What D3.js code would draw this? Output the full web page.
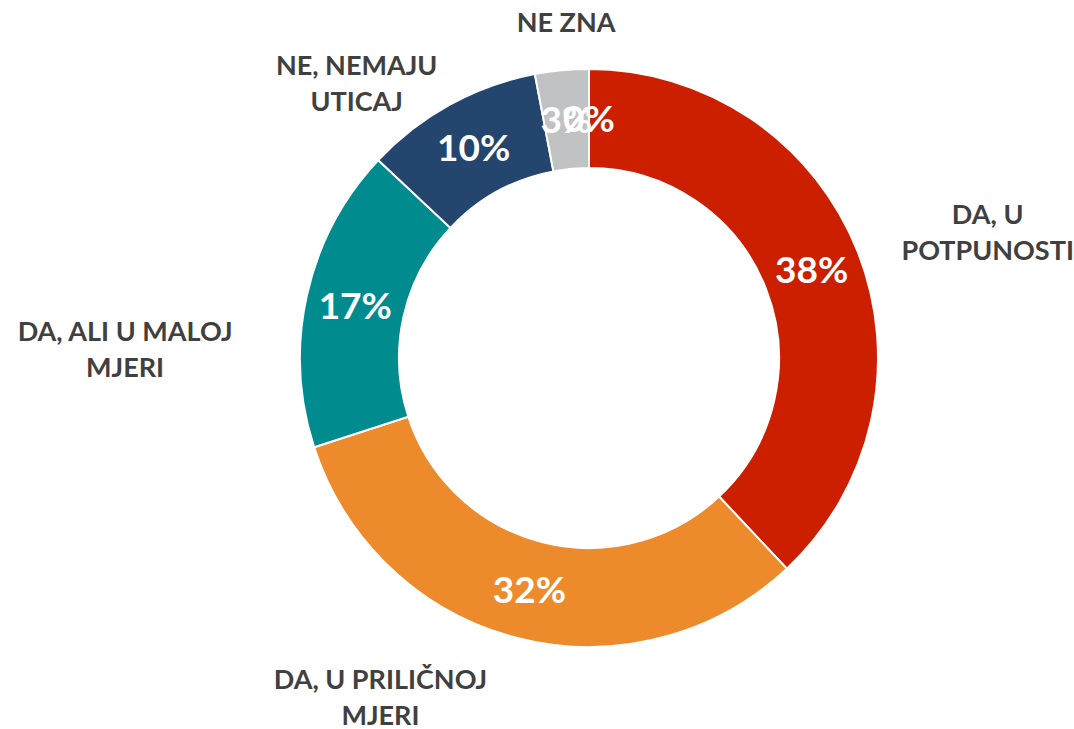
<!DOCTYPE html>
<html>
<head>
<meta charset="utf-8">
<script src="https://cdn.jsdelivr.net/npm/d3@7"></script>
<style>
  body { margin: 0; background: #fff; }
  svg { display: block; }
</style>
</head>
<body>
<svg width="1074" height="729"></svg>
<script>
const w = 1074;
const h = 729;

// chart data (clockwise from 12 o'clock)
const categories = [
  ['DA, U', 'POTPUNOSTI'],
  ['DA, U PRILIČNOJ', 'MJERI'],
  ['DA, ALI U MALOJ', 'MJERI'],
  ['NE, NEMAJU', 'UTICAJ'],
  ['NE ZNA'],
  []
];
const values = [38, 32, 17, 10, 3, 0];
const colors = ['#cc1f00', '#ed8b2c', '#008b8f', '#24456e', '#c1c2c4', '#7f7f7f'];

// where the category labels sit: angle (deg from top, clockwise) and distance from centre
const labelAngle = [72.5, 211.6, 271.1, 319.8, 356.1, 0];
const labelDist = [418, 398, 464, 360, 337, 0];

const cx = 589;
const cy = 358;
const outerR = 289;
const innerR = 190;

let svg = d3.select('svg');

const data = categories.map((c, i) => ({ name: c, value: values[i], color: colors[i] }));

const pie = d3.pie().sort(null).value(d => d.value);
const arcs = pie(data);

const arc = d3.arc().innerRadius(innerR).outerRadius(outerR);
const midArc = d3.arc().innerRadius((innerR + outerR) / 2).outerRadius((innerR + outerR) / 2);

let g = svg.append('g').attr('transform', `translate(${cx},${cy})`);

g.selectAll('path')
  .data(arcs)
  .enter()
  .append('path')
  .attr('d', arc)
  .attr('fill', d => d.data.color)
  .attr('stroke', '#fff')
  .attr('stroke-width', 2);

// percentage labels, white, in the middle of the ring
g.selectAll('text.pct')
  .data(arcs)
  .enter()
  .append('text')
  .attr('class', 'pct')
  .attr('transform', d => `translate(${midArc.centroid(d)})`)
  .attr('text-anchor', 'middle')
  .attr('dy', '0.36em')
  .style('font-family', 'Lato, sans-serif')
  .style('font-weight', 700)
  .style('font-size', '37px')
  .style('fill', '#fff')
  .text(d => d.data.value + '%');

// category labels outside the ring
const lineH = 36;
let labels = g.selectAll('text.cat')
  .data(arcs.filter(d => d.data.name.length))
  .enter()
  .append('text')
  .attr('class', 'cat')
  .attr('text-anchor', 'middle')
  .attr('transform', d => {
    const a = labelAngle[d.index] * Math.PI / 180;
    const r = labelDist[d.index];
    return `translate(${r * Math.sin(a)},${-r * Math.cos(a)})`;
  })
  .style('font-family', 'Lato, sans-serif')
  .style('font-weight', 700)
  .style('font-size', '27px')
  .style('fill', '#404040');

labels.selectAll('tspan')
  .data(d => d.data.name.map((t, i, arr) => ({ t, i, n: arr.length })))
  .enter()
  .append('tspan')
  .attr('x', 0)
  .attr('y', d => (d.i - (d.n - 1) / 2) * lineH)
  .attr('dy', '0.36em')
  .text(d => d.t);
</script>
</body>
</html>
